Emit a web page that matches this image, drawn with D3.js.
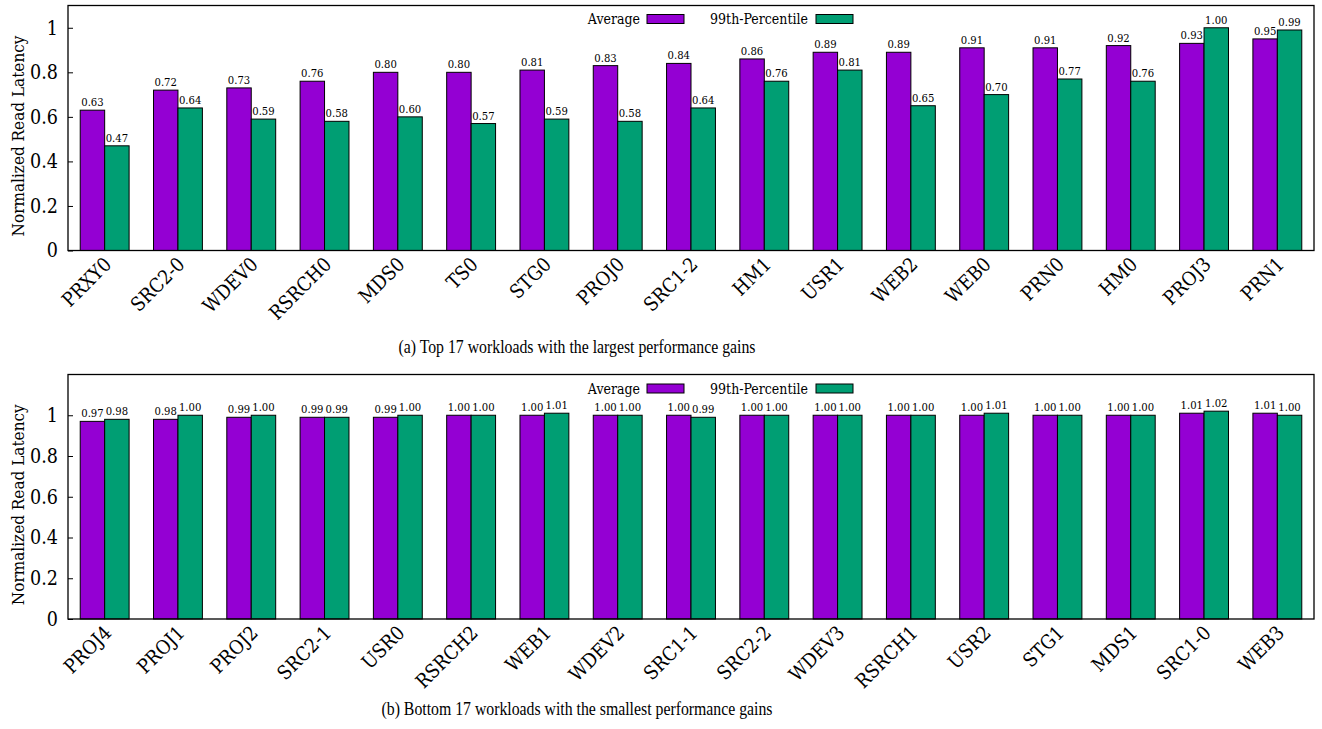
<!DOCTYPE html>
<html>
<head>
<meta charset="utf-8">
<script src="https://cdn.jsdelivr.net/npm/d3@7"></script>
<style>
  html, body { margin: 0; padding: 0; background: #fff; }
  svg { display: block; }
  .gp { font-family: "DejaVu Serif Condensed", "DejaVu Serif", serif; font-stretch: condensed; }
  .cap { font-family: "Liberation Serif", "Times New Roman", serif; }
</style>
</head>
<body>
<svg id="chart" width="1322" height="729"></svg>
<script>
// Workloads and normalized latencies (panel a: largest gains)
const topWorkloads = ["PRXY0","SRC2-0","WDEV0","RSRCH0","MDS0","TS0","STG0","PROJ0","SRC1-2","HM1","USR1","WEB2","WEB0","PRN0","HM0","PROJ3","PRN1"];
const topAverage   = [0.63,0.72,0.73,0.76,0.80,0.80,0.81,0.83,0.84,0.86,0.89,0.89,0.91,0.91,0.92,0.93,0.95];
const topP99       = [0.47,0.64,0.59,0.58,0.60,0.57,0.59,0.58,0.64,0.76,0.81,0.65,0.70,0.77,0.76,1.00,0.99];

// Panel b: smallest gains
const bottomWorkloads = ["PROJ4","PROJ1","PROJ2","SRC2-1","USR0","RSRCH2","WEB1","WDEV2","SRC1-1","SRC2-2","WDEV3","RSRCH1","USR2","STG1","MDS1","SRC1-0","WEB3"];
const bottomAverage   = [0.97,0.98,0.99,0.99,0.99,1.00,1.00,1.00,1.00,1.00,1.00,1.00,1.00,1.00,1.00,1.01,1.01];
const bottomP99       = [0.98,1.00,1.00,0.99,1.00,1.00,1.01,1.00,0.99,1.00,1.00,1.00,1.01,1.00,1.00,1.02,1.00];

const seriesNames = ["Average", "99th-Percentile"];
const seriesColors = ["#9400D3", "#009E73"];
const yTicks = [0, 0.2, 0.4, 0.6, 0.8, 1];
const yTickLabels = ["0", "0.2", "0.4", "0.6", "0.8", "1"];

const svg = d3.select("#chart");

function drawPanel(cfg) {
  const { workloads, avg, p99, top, bottom, yMax, caption, captionY, captionWidth, legendY } = cfg;
  const left = 68, right = 1314;
  const g = svg.append("g");

  const x = d3.scaleBand().domain(workloads).range([left, right])
    .paddingInner(0.333).paddingOuter(0.1667);
  const xs = d3.scaleBand().domain(seriesNames).range([0, x.bandwidth()]).padding(0);
  const y = d3.scaleLinear().domain([0, yMax]).range([bottom, top]);

  const rows = workloads.map((w, i) => ({ w, vals: [avg[i], p99[i]] }));

  // bars
  const grp = g.selectAll("g.grp").data(rows).join("g")
    .attr("transform", d => `translate(${x(d.w)},0)`);
  grp.selectAll("rect").data(d => d.vals.map((v, k) => ({ v, k }))).join("rect")
    .attr("x", d => xs(seriesNames[d.k]))
    .attr("y", d => y(d.v))
    .attr("width", xs.bandwidth())
    .attr("height", d => y(0) - y(d.v))
    .attr("fill", d => seriesColors[d.k])
    .attr("stroke", "#000")
    .attr("stroke-width", 1);

  // value labels
  grp.selectAll("text.val").data(d => d.vals.map((v, k) => ({ v, k }))).join("text")
    .attr("class", "val gp")
    .attr("x", d => xs(seriesNames[d.k]) + xs.bandwidth() / 2)
    .attr("y", d => y(d.v) - 4)
    .attr("text-anchor", "middle")
    .attr("font-size", 11.2)
    .attr("fill", "#000")
    .text(d => d.v.toFixed(2));

  // y axis with inward ticks
  const yAxis = d3.axisLeft(y).tickValues(yTicks).tickSize(-5)
    .tickFormat((d, i) => yTickLabels[i]).tickPadding(10);
  const ya = g.append("g").attr("transform", `translate(${left},0)`).call(yAxis);
  ya.select(".domain").remove();
  ya.selectAll("text").attr("class", "gp").attr("font-size", 19.5).attr("fill", "#000");
  ya.selectAll("line").attr("stroke", "#000");

  // x axis labels rotated
  const xAxis = d3.axisBottom(x).tickSize(0).tickPadding(0);
  const xa = g.append("g").attr("transform", `translate(0,${bottom})`).call(xAxis);
  xa.select(".domain").remove();
  xa.selectAll("text")
    .attr("class", "gp")
    .attr("font-size", 19.5)
    .attr("fill", "#000")
    .attr("text-anchor", "end")
    .attr("dy", 0)
    .attr("transform", "translate(8,15) rotate(-45)");

  // frame
  g.append("rect").attr("x", left).attr("y", top)
    .attr("width", right - left).attr("height", bottom - top)
    .attr("fill", "none").attr("stroke", "#000").attr("stroke-width", 1.3);

  // y title
  g.append("text").attr("class", "gp")
    .attr("transform", `translate(24,${(top + bottom) / 2 + 8}) rotate(-90)`)
    .attr("text-anchor", "middle").attr("font-size", 17).attr("fill", "#000")
    .text("Normalized Read Latency");

  // legend
  const legendItems = [
    { name: seriesNames[0], textEnd: 640, boxX: 647 },
    { name: seriesNames[1], textEnd: 808, boxX: 816 }
  ];
  legendItems.forEach((it, k) => {
    g.append("text").attr("class", "gp")
      .attr("x", it.textEnd).attr("y", legendY + 5)
      .attr("text-anchor", "end").attr("font-size", 14).attr("fill", "#000")
      .text(it.name);
    g.append("rect").attr("x", it.boxX).attr("y", legendY - 4.5)
      .attr("width", 37).attr("height", 9)
      .attr("fill", seriesColors[k]).attr("stroke", "#000").attr("stroke-width", 1);
  });

  // caption
  g.append("text").attr("class", "cap")
    .attr("x", 577 - captionWidth / 2).attr("y", captionY)
    .attr("font-size", 19).attr("fill", "#000")
    .attr("textLength", captionWidth).attr("lengthAdjust", "spacingAndGlyphs")
    .text(caption);
}

drawPanel({
  workloads: topWorkloads, avg: topAverage, p99: topP99,
  top: 5.5, bottom: 250.5, yMax: 1.1,
  caption: "(a) Top 17 workloads with the largest performance gains",
  captionY: 353, captionWidth: 357, legendY: 19
});

drawPanel({
  workloads: bottomWorkloads, avg: bottomAverage, p99: bottomP99,
  top: 374.5, bottom: 619, yMax: 1.2,
  caption: "(b) Bottom 17 workloads with the smallest performance gains",
  captionY: 715, captionWidth: 391, legendY: 388.5
});
</script>
</body>
</html>
